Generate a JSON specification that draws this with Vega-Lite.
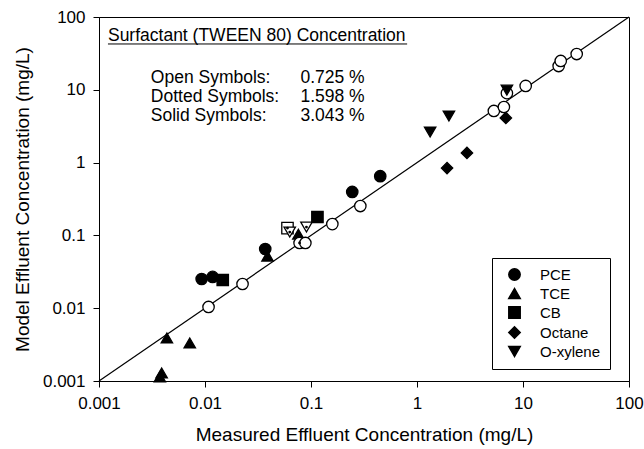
{
  "$schema": "https://vega.github.io/schema/vega-lite/v6.json",
  "width": 530,
  "height": 364,
  "autosize": {"type": "none"},
  "padding": {"left": 99, "top": 17, "right": 15, "bottom": 68},
  "background": "white",
  "config": {
    "font": "Liberation Sans",
    "view": {"stroke": "black", "strokeWidth": 1},
    "axis": {
      "grid": false,
      "domainColor": "black",
      "tickColor": "black",
      "labelColor": "black",
      "titleColor": "black",
      "labelFontSize": 17,
      "titleFontSize": 19,
      "titleFontWeight": "normal",
      "tickSize": 6,
      "labelPadding": 8,
      "labelFlush": false,
      "labelFont": "Liberation Sans",
      "titleFont": "Liberation Sans"
    }
  },
  "datasets": {
    "pts": [
      {"compound": "PCE", "conc": "solid", "measured": 0.0093, "model": 0.0252},
      {"compound": "PCE", "conc": "solid", "measured": 0.0118, "model": 0.0269},
      {"compound": "PCE", "conc": "solid", "measured": 0.037, "model": 0.065},
      {"compound": "PCE", "conc": "solid", "measured": 0.245, "model": 0.395},
      {"compound": "PCE", "conc": "solid", "measured": 0.45, "model": 0.65},
      {"compound": "TCE", "conc": "solid", "measured": 0.00437, "model": 0.0039},
      {"compound": "TCE", "conc": "solid", "measured": 0.00718, "model": 0.00333},
      {"compound": "TCE", "conc": "solid", "measured": 0.0039, "model": 0.00129},
      {"compound": "TCE", "conc": "solid", "measured": 0.00375, "model": 0.00114},
      {"compound": "TCE", "conc": "solid", "measured": 0.0389, "model": 0.052},
      {"compound": "TCE", "conc": "solid", "measured": 0.076, "model": 0.104},
      {"compound": "CB", "conc": "solid", "measured": 0.0147, "model": 0.0244},
      {"compound": "CB", "conc": "solid", "measured": 0.115, "model": 0.179},
      {"compound": "CB", "conc": "dotted", "measured": 0.06, "model": 0.126},
      {"compound": "Octane", "conc": "solid", "measured": 1.92, "model": 0.84},
      {"compound": "Octane", "conc": "solid", "measured": 2.96, "model": 1.36},
      {"compound": "Octane", "conc": "solid", "measured": 6.89, "model": 4.1},
      {"compound": "O-xylene", "conc": "solid", "measured": 1.33, "model": 2.63},
      {"compound": "O-xylene", "conc": "solid", "measured": 2.0, "model": 4.36},
      {"compound": "O-xylene", "conc": "dotted", "measured": 0.063, "model": 0.111},
      {"compound": "O-xylene", "conc": "dotted", "measured": 0.0906, "model": 0.13},
      {"compound": "PCE", "conc": "open", "measured": 0.0108, "model": 0.0104},
      {"compound": "PCE", "conc": "open", "measured": 0.0226, "model": 0.0215},
      {"compound": "PCE", "conc": "dotted", "measured": 0.078, "model": 0.0787},
      {"compound": "PCE", "conc": "open", "measured": 0.0885, "model": 0.0787},
      {"compound": "PCE", "conc": "open", "measured": 0.159, "model": 0.143},
      {"compound": "PCE", "conc": "open", "measured": 0.292, "model": 0.253},
      {"compound": "PCE", "conc": "open", "measured": 5.31, "model": 5.12},
      {"compound": "PCE", "conc": "open", "measured": 6.6, "model": 5.8},
      {"compound": "PCE", "conc": "open", "measured": 7.05, "model": 9.0},
      {"compound": "PCE", "conc": "open", "measured": 10.6, "model": 11.3},
      {"compound": "PCE", "conc": "open", "measured": 21.7, "model": 21.2},
      {"compound": "PCE", "conc": "open", "measured": 22.7, "model": 24.9},
      {"compound": "PCE", "conc": "open", "measured": 32.1, "model": 31.0},
      {"compound": "O-xylene", "conc": "solid", "measured": 7.05, "model": 9.9}
    ]
  },
  "layer": [
    {
      "data": {"values": [{}]},
      "mark": {"type": "rule", "color": "black", "strokeWidth": 1.2},
      "encoding": {
        "x": {"datum": 0.001, "type": "quantitative", "scale": {"type": "log", "domain": [0.001, 100], "nice": false}, "title": "Measured Effluent Concentration (mg/L)", "axis": {"values": [0.001, 0.01, 0.1, 1, 10, 100], "format": "~g", "titlePadding": 14}},
        "y": {"datum": 0.001, "type": "quantitative", "scale": {"type": "log", "domain": [0.001, 100], "nice": false}, "title": "Model Effluent Concentration (mg/L)", "axis": {"values": [0.001, 0.01, 0.1, 1, 10, 100], "format": "~g", "titlePadding": 10}},
        "x2": {"datum": 100},
        "y2": {"datum": 100}
      }
    },
    {
      "data": {"name": "pts"},
      "mark": {"type": "point", "filled": true, "opacity": 1, "stroke": "black", "strokeWidth": 1.3, "size": 130},
      "encoding": {
        "x": {"field": "measured", "type": "quantitative", "title": "Measured Effluent Concentration (mg/L)"},
        "y": {"field": "model", "type": "quantitative", "title": "Model Effluent Concentration (mg/L)"},
        "shape": {
          "field": "compound",
          "type": "nominal",
          "scale": {"domain": ["PCE", "TCE", "CB", "Octane", "O-xylene"], "range": ["circle", "triangle-up", "square", "diamond", "triangle-down"]},
          "legend": {
            "title": null,
            "orient": "none",
            "legendX": 393,
            "legendY": 241,
            "strokeColor": "black",
            "fillColor": "white",
            "padding": 9,
            "symbolOffset": 6,
            "labelOffset": 18,
            "labelFontSize": 15,
            "labelColor": "black",
            "rowPadding": 1,
            "symbolSize": 130,
            "symbolFillColor": "black",
            "symbolStrokeColor": "black",
            "symbolOpacity": 1
          }
        },
        "fill": {"field": "conc", "type": "nominal", "scale": {"domain": ["open", "dotted", "solid"], "range": ["white", "white", "black"]}, "legend": null}
      }
    },
    {
      "data": {"name": "pts"},
      "transform": [{"filter": "datum.conc == 'dotted'"}],
      "mark": {"type": "point", "filled": true, "opacity": 1, "color": "black", "size": 8, "shape": "circle"},
      "encoding": {
        "x": {"field": "measured", "type": "quantitative"},
        "y": {"field": "model", "type": "quantitative"}
      }
    },
    {
      "data": {"values": [{}]},
      "mark": {"type": "text", "text": "Surfactant (TWEEN 80) Concentration", "align": "left", "baseline": "alphabetic", "fontSize": 17.5, "color": "black"},
      "encoding": {
        "x": {"datum": 0.001215, "type": "quantitative"},
        "y": {"datum": 46.1, "type": "quantitative"}
      }
    },
    {
      "data": {"values": [{}]},
      "mark": {"type": "rule", "color": "black", "strokeWidth": 1},
      "encoding": {
        "x": {"datum": 0.001215, "type": "quantitative"},
        "x2": {"datum": 0.807},
        "y": {"datum": 42.6, "type": "quantitative"}
      }
    },
    {
      "data": {"values": [{}]},
      "mark": {"type": "text", "text": ["Open Symbols:", "Dotted Symbols:", "Solid Symbols:"], "lineHeight": 19, "align": "left", "baseline": "alphabetic", "fontSize": 17.5, "color": "black"},
      "encoding": {
        "x": {"datum": 0.003083, "type": "quantitative"},
        "y": {"datum": 12.59, "type": "quantitative"}
      }
    },
    {
      "data": {"values": [{}]},
      "mark": {"type": "text", "text": ["0.725 %", "1.598 %", "3.043 %"], "lineHeight": 19, "align": "left", "baseline": "alphabetic", "fontSize": 17.5, "color": "black"},
      "encoding": {
        "x": {"datum": 0.07943, "type": "quantitative"},
        "y": {"datum": 12.59, "type": "quantitative"}
      }
    }
  ]
}
